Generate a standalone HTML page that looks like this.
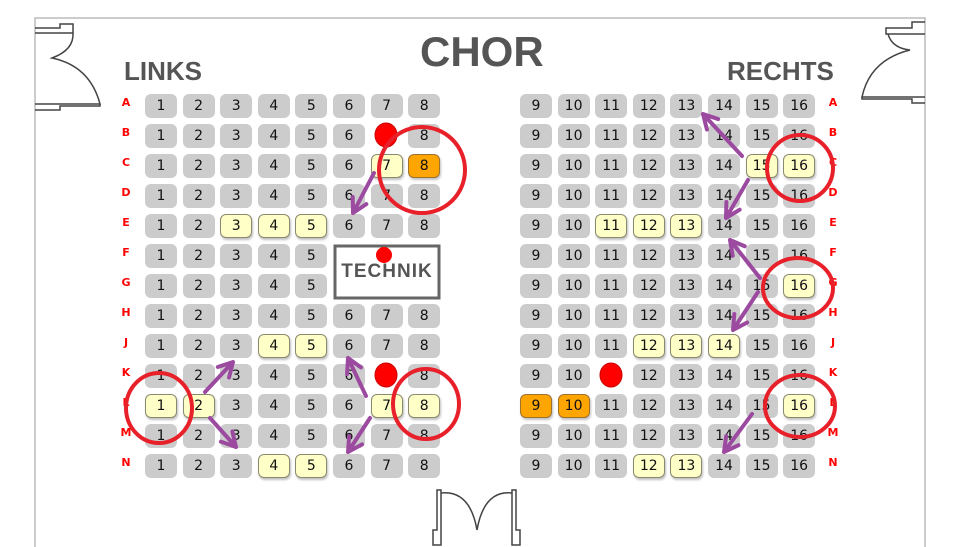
<!DOCTYPE html>
<html><head><meta charset="utf-8"><style>
body{margin:0;width:957px;height:547px;background:#fff;overflow:hidden;position:relative;font-family:"DejaVu Sans","Liberation Sans",sans-serif}
.s{position:absolute;width:32px;height:24px;border-radius:6px;background:#cccccc;color:#111;font-size:14px;line-height:24px;text-align:center;box-sizing:border-box}
.y{background:#ffffc8;border:1px solid #8a8a70;line-height:22px;box-shadow:1px 2px 2px rgba(0,0,0,.25)}
.o{background:#ffa500;border:1px solid #a07030;line-height:22px;box-shadow:1px 2px 2px rgba(0,0,0,.25)}
.r{position:absolute;color:#f00;font-weight:bold;font-size:11px;font-family:"DejaVu Sans",sans-serif;width:20px;text-align:center}
.t{position:absolute;font-family:"Liberation Sans",sans-serif;font-weight:bold;color:#555}
svg{position:absolute;left:0;top:0}
</style></head><body>
<div class="t" style="left:420px;top:28px;font-size:42px;letter-spacing:0px">CHOR</div>
<div class="t" style="left:124px;top:56px;font-size:26px">LINKS</div>
<div class="t" style="left:727px;top:56px;font-size:26px">RECHTS</div>
<div id="g"></div>
<svg width="957" height="547">
<g fill="none" stroke="#bbb" stroke-width="1.5"><path d="M35 547V18H925V547"/></g>
<g fill="none" stroke="#444" stroke-width="1.5">
<path d="M35 28H60V24H73V33H35"/><path d="M73 33Q74 50 52 58Q90 66 100 104H35"/><path d="M35 110H60V106H100V104"/>
<path d="M925 22H912V28H886V34H925"/><path d="M888 34Q892 48 910 50Q870 60 862 97H925"/><path d="M925 103H912V99H862V97"/>
<path d="M433 545V530H437V490H441V545Z"/><path d="M520 545V530H516V490H512V545Z"/>
<path d="M441 493Q470 490 477 530Q484 490 512 493"/>
</g>
<rect x="335" y="246" width="104" height="52" fill="#fff" stroke="#666" stroke-width="3"/>
<text x="387" y="277" font-family="Liberation Sans,sans-serif" font-weight="bold" font-size="19" fill="#555" text-anchor="middle" letter-spacing="1">TECHNIK</text>
<circle cx="384" cy="255" r="8" fill="#f00"/>
<g fill="#f00" stroke="#c00" stroke-width="1"><ellipse cx="386" cy="135" rx="11" ry="12"/><ellipse cx="386" cy="375" rx="11" ry="12"/><ellipse cx="611" cy="375" rx="11" ry="12"/></g>
<g fill="none" stroke="#e8202a" stroke-width="4">
<ellipse cx="422" cy="170" rx="43" ry="43"/><ellipse cx="800" cy="168" rx="33" ry="33"/><ellipse cx="798" cy="288" rx="35" ry="30"/><ellipse cx="800" cy="406" rx="35" ry="31"/><ellipse cx="159" cy="408" rx="33" ry="35"/><ellipse cx="426" cy="404" rx="33" ry="35"/>
</g>
<g fill="none" stroke="#9b4aa0" stroke-width="4" stroke-linecap="round" stroke-linejoin="round" id="ar"></g>
</svg>
<script>
var g=document.getElementById('g'),h='';
var rows='ABCDEFGHJKLMN';
var yel={'C7':1,'E3':1,'E4':1,'E5':1,'J4':1,'J5':1,'L1':1,'L2':1,'L7':1,'L8':1,'N4':1,'N5':1,'C15':1,'C16':1,'E11':1,'E12':1,'E13':1,'G16':1,'J12':1,'J13':1,'J14':1,'L16':1,'N12':1,'N13':1};
var ora={'C8':1,'L9':1,'L10':1};
var skip={'F6':1,'F7':1,'F8':1,'G6':1,'G7':1,'G8':1,'B7':1,'K7':1,'K11':1};
for(var r=0;r<13;r++){var y=94+r*30;
h+='<div class="r" style="left:116px;top:'+(y+2)+'px">'+rows[r]+'</div>';
h+='<div class="r" style="left:823px;top:'+(y+2)+'px">'+rows[r]+'</div>';
for(var c=1;c<=16;c++){var k=rows[r]+c;if(skip[k])continue;
var x=c<=8?145+(c-1)*37.6:520+(c-9)*37.6;
var cl='s'+(yel[k]?' y':'')+(ora[k]?' o':'');
h+='<div class="'+cl+'" style="left:'+x+'px;top:'+y+'px">'+c+'</div>';}}
g.innerHTML=h;
var A=[[374,173,353,213],[742,156,703,114],[748,180,726,218],[760,278,730,240],[758,292,733,330],[752,414,724,452],[205,392,233,362],[210,418,236,447],[366,396,348,358],[370,418,348,452]];
var s='';
A.forEach(function(a){var dx=a[2]-a[0],dy=a[3]-a[1],L=Math.hypot(dx,dy),ux=dx/L,uy=dy/L,hl=16;
function p(ang){var c=Math.cos(ang),sn=Math.sin(ang);return [a[2]-hl*(ux*c-uy*sn),a[3]-hl*(uy*c+ux*sn)];}
var p1=p(0.5),p2=p(-0.5);
s+='<path d="M'+a[0]+' '+a[1]+'L'+a[2]+' '+a[3]+'M'+p1[0]+' '+p1[1]+'L'+a[2]+' '+a[3]+'L'+p2[0]+' '+p2[1]+'"/>';});
document.getElementById('ar').innerHTML=s;
</script>
</body></html>
